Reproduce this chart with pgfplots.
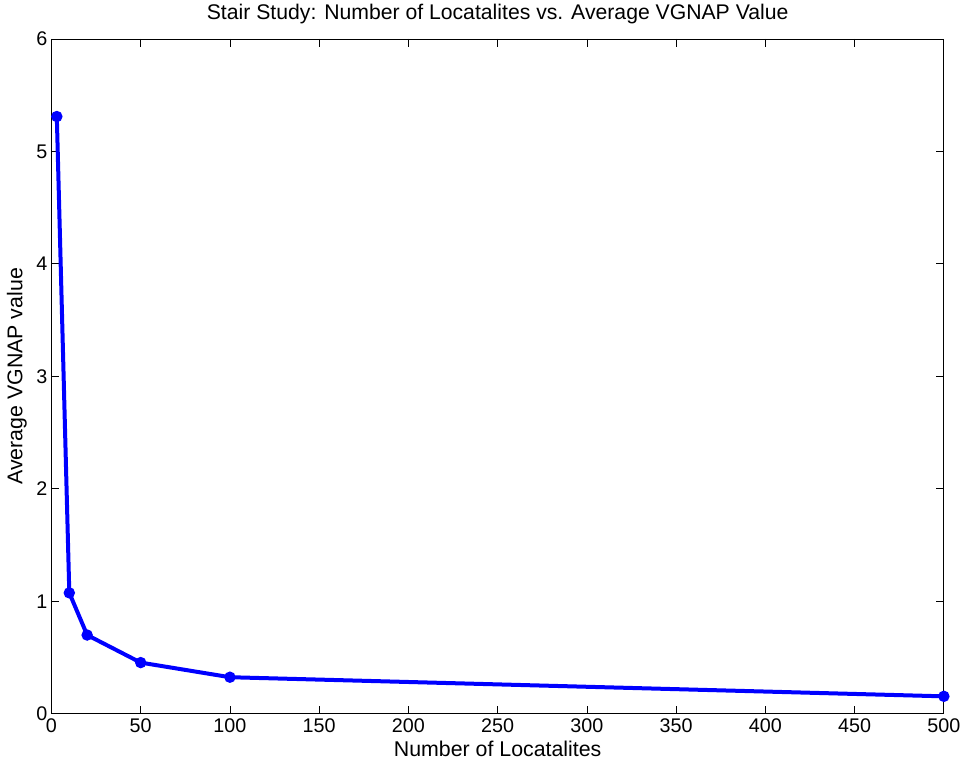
\documentclass[border=0pt]{standalone}
\usepackage{pgfplots}
\pgfplotsset{compat=1.18}
\usepackage{fontspec}
\setmainfont{Liberation Sans}
\definecolor{mblue}{RGB}{0,0,255}
\begin{document}
\begin{tikzpicture}
\useasboundingbox (-38.6bp,-36.8bp) rectangle (686bp,535.4bp);
\begin{axis}[
  scale only axis,
  width=669.4bp,
  height=506.2bp,
  xmin=0, xmax=500,
  ymin=0, ymax=6,
  xtick={0,50,...,500},
  ytick={0,1,...,6},
  tick align=inside,
  major tick length=6bp,
  axis line style={line width=0.6bp},
  tick style={line width=0.6bp, black},
  ticklabel style={font=\fontsize{14.8bp}{16bp}\selectfont},
  /pgf/number format/assume math mode=true,
  xticklabel style={yshift=-0.5bp},
  yticklabel style={xshift=0.5bp},
  every axis title shift=0pt,
  title={Stair Study: Number of Locatalites vs. Average VGNAP Value},
  title style={font=\fontsize{15.9bp}{18bp}\selectfont, at={(axis description cs:0.5,1.037)}, anchor=center},
  xlabel={Number of Locatalites},
  ylabel={Average VGNAP value},
  label style={font=\fontsize{16bp}{18bp}\selectfont},
  xlabel style={at={(axis description cs:0.5,-0.0525)}, anchor=center},
  ylabel style={at={(axis description cs:-0.0387,0.5)}, anchor=center, rotate=0},
]
\addplot[color=mblue, line width=3bp, mark=*, mark size=2.7bp, mark options={fill=mblue}] coordinates {
  (3, 5.31)
  (10, 1.075)
  (20, 0.70)
  (50, 0.455)
  (100, 0.325)
  (500, 0.155)
};
\end{axis}
\end{tikzpicture}
\end{document}
